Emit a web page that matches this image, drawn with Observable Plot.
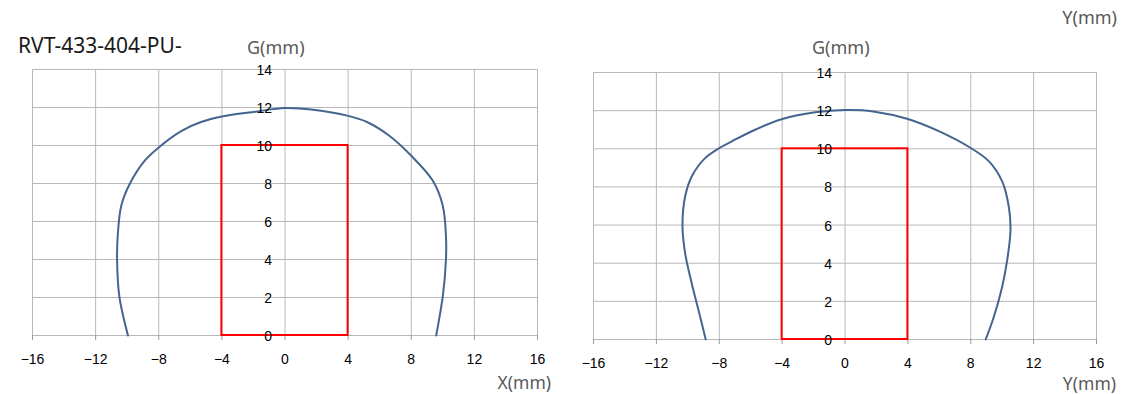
<!DOCTYPE html>
<html>
<head>
<meta charset="utf-8">
<script src="https://cdn.jsdelivr.net/npm/d3@7"></script>
<script src="https://cdn.jsdelivr.net/npm/@observablehq/plot@0.6"></script>
<style>
  html, body { margin: 0; padding: 0; background: #fff; }
  #wrap { position: relative; width: 1122px; height: 394px; overflow: hidden; }
  #wrap > .p { position: absolute; top: 0; }
  #overlay { position: absolute; left: 0; top: 0; pointer-events: none; }
</style>
</head>
<body>
<div id="wrap"></div>
<script>
// ---- data ----
const title = "RVT-433-404-PU-";
const xTicks = [-16, -12, -8, -4, 0, 4, 8, 12, 16];
const gTicks = [0, 2, 4, 6, 8, 10, 12, 14];
const rectX = [-4, 4];
const rectG = [0, 10];

// left chart: X direction
const leftX = [-9.95, -10.5, -10.64, -10.6, -10.38, -9.85, -8.9, -8.0, -6.55, -5.28, -4.0, -1.87, 0, 1.79, 4.0, 5.16, 6.63, 8.0, 9.37, 10.0, 10.2, 10.2, 10.0, 9.58];
const leftG = [0, 2.07, 4.0, 5.24, 6.82, 7.96, 9.19, 9.9, 10.77, 11.25, 11.53, 11.78, 11.97, 11.88, 11.56, 11.25, 10.5, 9.46, 8.14, 6.82, 5.24, 4.0, 2.07, 0];

// right chart: Y direction
const rightY = [-8.86, -9.32, -9.75, -10.17, -10.34, -10.17, -9.75, -8.9, -7.99, -7.2, -5.72, -3.98, -1.9, 0, 1.79, 4.0, 6.0, 8.0, 9.16, 10.0, 10.42, 10.53, 10.32, 10.0, 9.47, 8.95];
const rightG = [0, 1.54, 2.94, 4.52, 6.0, 7.5, 8.55, 9.51, 10.04, 10.39, 11.0, 11.56, 11.91, 12.03, 11.96, 11.56, 10.91, 10.04, 9.34, 8.29, 6.97, 5.75, 4.17, 2.77, 1.19, 0];

const gridColor = "#b8b8b8";
const curveColor = "#44658f";

function makeChart(xs, gs, m) {
  const pts = xs.map((x, i) => ({x, g: gs[i]}));
  const rect = [{x1: rectX[0], x2: rectX[1], y1: rectG[0], y2: rectG[1]}];
  return Plot.plot({
    width: 561,
    height: 394,
    marginLeft: m.left,
    marginRight: m.right,
    marginTop: m.top,
    marginBottom: m.bottom,
    style: {fontFamily: "Liberation Sans, Arial, sans-serif", background: "transparent", overflow: "visible"},
    x: {domain: [-16, 16], axis: null},
    y: {domain: [0, 14], axis: null},
    marks: [
      Plot.gridX(xTicks, {stroke: gridColor, strokeOpacity: 1}),
      Plot.gridY(gTicks, {stroke: gridColor, strokeOpacity: 1}),
      Plot.frame({stroke: gridColor}),
      Plot.axisX(xTicks, {anchor: "bottom", tickSize: 5, tickPadding: 14, fontSize: 14, stroke: "#999", fill: "#000"}),
      Plot.rect(rect, {x1: "x1", x2: "x2", y1: "y1", y2: "y2", fill: "none", stroke: "#ff0000", strokeWidth: 2}),
      Plot.line(pts, {x: "x", y: "g", curve: "catmull-rom", stroke: curveColor, strokeWidth: 2}),
      Plot.text(gTicks, {x: () => 0, y: d => d, text: d => String(d), textAnchor: "end", dx: -13, dy: 1, fontSize: 14, fill: "#000"})
    ]
  });
}

const wrap = document.getElementById("wrap");
const left = makeChart(leftX, leftG, {left: 32, right: 24, top: 69, bottom: 59});
left.classList.add("p");
left.style.left = "0px";
wrap.appendChild(left);

const right = makeChart(rightY, rightG, {left: 32, right: 26, top: 72, bottom: 55});
right.classList.add("p");
right.style.left = "561px";
wrap.appendChild(right);

// overlay texts
const ns = "http://www.w3.org/2000/svg";
const ov = document.createElementNS(ns, "svg");
ov.setAttribute("id", "overlay");
ov.setAttribute("width", 1122);
ov.setAttribute("height", 394);
function addText(str, x, y, size, color, anchor) {
  const t = document.createElementNS(ns, "text");
  t.setAttribute("x", x);
  t.setAttribute("y", y);
  t.setAttribute("font-size", size);
  t.setAttribute("fill", color);
  t.setAttribute("text-anchor", anchor || "start");
  t.setAttribute("font-family", "Noto Sans, Open Sans, sans-serif");
  t.textContent = str;
  ov.appendChild(t);
}
addText(title, 18, 53, 21, "#1a1a1a");
addText("G(mm)", 247, 54, 18, "#595959");
addText("G(mm)", 812, 54, 18, "#595959");
addText("X(mm)", 551, 389, 17.5, "#595959", "end");
addText("Y(mm)", 1116, 390, 17.5, "#595959", "end");
addText("Y(mm)", 1117, 24, 18, "#595959", "end");
wrap.appendChild(ov);
</script>
</body>
</html>
